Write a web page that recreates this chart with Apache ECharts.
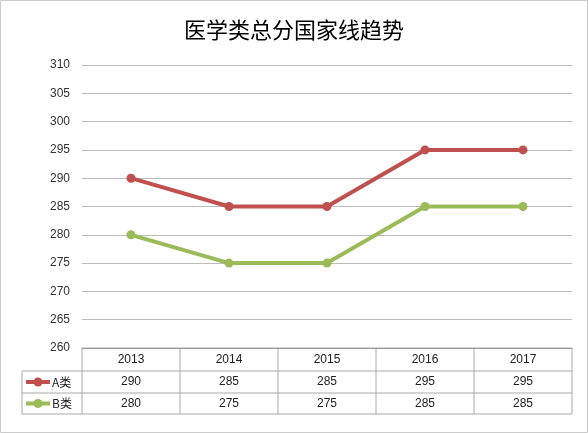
<!DOCTYPE html>
<html><head><meta charset="utf-8">
<script src="https://cdn.jsdelivr.net/npm/echarts@6/dist/echarts.min.js"></script>
<style>html,body{margin:0;padding:0;background:#fff}#c{width:588px;height:433px}</style>
</head><body><div id="c"></div>
<script>
var title = '医学类总分国家线趋势';
var years = ['2013','2014','2015','2016','2017'];
var seriesNames = ['A类','B类'];
var seriesA = [290,285,285,295,295];
var seriesB = [280,275,275,285,285];
var colors = ['#C0504D','#9BBB59'];

var G = {left:82, right:16, top:65, bottom:85};
var W = 588, H = 433;
var chart = echarts.init(document.getElementById('c'));
var font = '"Liberation Sans", Arial, sans-serif';
chart.setOption({
  animation:false,
  title:{text:title,left:'center',top:14,textStyle:{fontFamily:'"Noto Sans CJK SC"',fontSize:22,fontWeight:'normal',color:'#000'}},
  grid:G,
  xAxis:{type:'category',data:years,boundaryGap:true,axisLabel:{show:false},axisTick:{show:false},axisLine:{lineStyle:{color:'#999'}}},
  yAxis:{type:'value',min:260,max:310,interval:5,axisLine:{show:false},axisTick:{show:false},
    axisLabel:{color:'#333',fontSize:12,fontFamily:font,margin:12},splitLine:{lineStyle:{color:'#bbb'}}},
  series:[
    {name:seriesNames[0],type:'line',data:seriesA,symbol:'circle',symbolSize:9,lineStyle:{width:4,color:colors[0]},itemStyle:{color:colors[0]}},
    {name:seriesNames[1],type:'line',data:seriesB,symbol:'circle',symbolSize:9,lineStyle:{width:4,color:colors[1]},itemStyle:{color:colors[1]}}
  ]
});
// data table
var x0 = G.left, x1 = W - G.right, yTop = H - G.bottom;
var rows = [yTop, yTop+23, yTop+45, yTop+66];
var colW = (x1 - x0)/years.length;
var legX = 22;
var els = [];
var ls = {stroke:'#aaa',lineWidth:1};
function line(a,b,c,d){els.push({type:'line',shape:{x1:a,y1:b,x2:c,y2:d},style:ls,silent:true});}
line(x0,rows[0],x0,rows[3]);
for (var i=1;i<=years.length;i++) line(x0+colW*i,rows[0],x0+colW*i,rows[3]);
line(x0,rows[0],x1,rows[0]);
for (var r=1;r<4;r++) line(legX,rows[r],x1,rows[r]);
line(legX,rows[1],legX,rows[3]);
function txt(x,y,t,align){els.push({type:'text',x:x,y:y,style:{text:t,fontSize:12,fontFamily:font,fill:'#222',align:align||'center',verticalAlign:'middle'},silent:true});}
years.forEach(function(y,i){txt(x0+colW*(i+0.5),(rows[0]+rows[1])/2,y);});
[seriesA,seriesB].forEach(function(s,k){
  var cy=(rows[k+1]+rows[k+2])/2;
  s.forEach(function(v,i){txt(x0+colW*(i+0.5),cy,String(v));});
  els.push({type:'line',shape:{x1:legX+4,y1:cy,x2:legX+28,y2:cy},style:{stroke:colors[k],lineWidth:4},silent:true});
  els.push({type:'circle',shape:{cx:legX+16,cy:cy,r:4.5},style:{fill:colors[k]},silent:true});
  els.push({type:'text',x:legX+30,y:cy,style:{text:seriesNames[k],fontSize:12,fontFamily:'"Noto Sans CJK SC"',fill:'#222',verticalAlign:'middle'},silent:true});
});
els.push({type:'rect',shape:{x:0.5,y:0.5,width:W-1,height:H-1},style:{fill:'none',stroke:'#ccc',lineWidth:1},silent:true});
chart.setOption({graphic:els});
</script></body></html>
